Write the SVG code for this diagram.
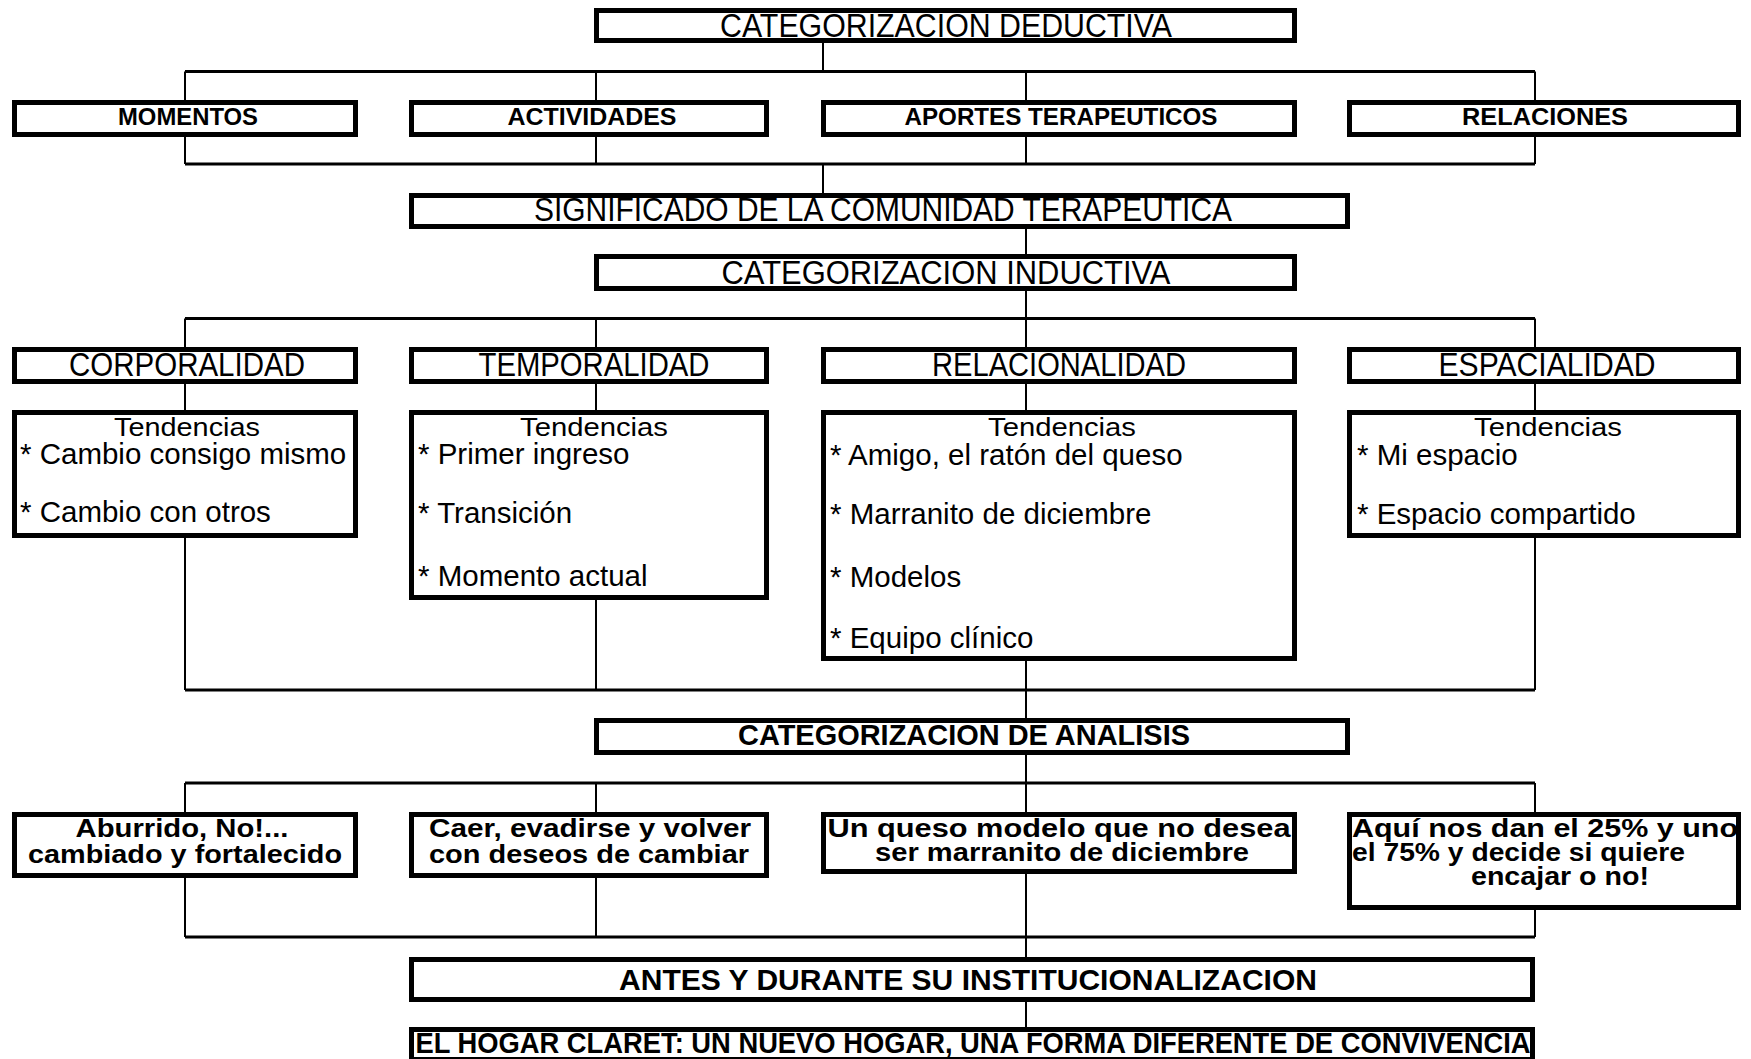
<svg xmlns="http://www.w3.org/2000/svg" width="1751" height="1059" viewBox="0 0 1751 1059">
  <style>
    .box { fill: #ffffff; stroke: #000000; stroke-width: 5; }
    .v { stroke: #000000; stroke-width: 2; fill: none; }
    .h { stroke: #000000; stroke-width: 3; fill: none; }
    text { font-family: "Liberation Sans", Arial, sans-serif; fill: #000000; }
    .cap { font-size: 34px; text-anchor: middle; }
    .capb { font-size: 24px; font-weight: bold; text-anchor: middle; }
    .titleb { font-size: 30px; font-weight: bold; text-anchor: middle; }
    .tend { font-size: 26px; text-anchor: middle; }
    .item { font-size: 29.5px; }
    .ana { font-size: 26px; font-weight: bold; }
    .mid { text-anchor: middle; }
  </style>

  <rect x="0" y="0" width="1751" height="1059" fill="#ffffff"/>

  <!-- connectors: vertical stems and horizontal bus bars -->
  <g id="connectors">
    <line class="v" x1="823" y1="43" x2="823" y2="71.5"/>
    <line class="h" x1="185" y1="71.5" x2="1535" y2="71.5"/>
    <line class="v" x1="185" y1="71.5" x2="185" y2="100"/>
    <line class="v" x1="596" y1="71.5" x2="596" y2="100"/>
    <line class="v" x1="1026" y1="71.5" x2="1026" y2="100"/>
    <line class="v" x1="1535" y1="71.5" x2="1535" y2="100"/>

    <line class="v" x1="185" y1="137" x2="185" y2="164"/>
    <line class="v" x1="596" y1="137" x2="596" y2="164"/>
    <line class="v" x1="1026" y1="137" x2="1026" y2="164"/>
    <line class="v" x1="1535" y1="137" x2="1535" y2="164"/>
    <line class="h" x1="185" y1="164" x2="1535" y2="164"/>
    <line class="v" x1="823" y1="164" x2="823" y2="193"/>

    <line class="v" x1="1026" y1="229" x2="1026" y2="254"/>
    <line class="v" x1="1026" y1="291" x2="1026" y2="318.5"/>
    <line class="h" x1="185" y1="318.5" x2="1535" y2="318.5"/>
    <line class="v" x1="185" y1="318.5" x2="185" y2="347"/>
    <line class="v" x1="596" y1="318.5" x2="596" y2="347"/>
    <line class="v" x1="1026" y1="318.5" x2="1026" y2="347"/>
    <line class="v" x1="1535" y1="318.5" x2="1535" y2="347"/>

    <line class="v" x1="185" y1="384" x2="185" y2="410"/>
    <line class="v" x1="596" y1="384" x2="596" y2="410"/>
    <line class="v" x1="1026" y1="384" x2="1026" y2="410"/>
    <line class="v" x1="1535" y1="384" x2="1535" y2="410"/>

    <line class="v" x1="185" y1="538" x2="185" y2="690"/>
    <line class="v" x1="596" y1="600" x2="596" y2="690"/>
    <line class="v" x1="1026" y1="661" x2="1026" y2="690"/>
    <line class="v" x1="1535" y1="538" x2="1535" y2="690"/>
    <line class="h" x1="185" y1="690" x2="1535" y2="690"/>
    <line class="v" x1="1026" y1="690" x2="1026" y2="718"/>

    <line class="v" x1="1026" y1="755" x2="1026" y2="783"/>
    <line class="h" x1="185" y1="783" x2="1535" y2="783"/>
    <line class="v" x1="185" y1="783" x2="185" y2="812"/>
    <line class="v" x1="596" y1="783" x2="596" y2="812"/>
    <line class="v" x1="1026" y1="783" x2="1026" y2="812"/>
    <line class="v" x1="1535" y1="783" x2="1535" y2="812"/>

    <line class="v" x1="185" y1="878" x2="185" y2="937"/>
    <line class="v" x1="596" y1="878" x2="596" y2="937"/>
    <line class="v" x1="1026" y1="874" x2="1026" y2="937"/>
    <line class="v" x1="1535" y1="910" x2="1535" y2="937"/>
    <line class="h" x1="185" y1="937" x2="1535" y2="937"/>
    <line class="v" x1="1026" y1="937" x2="1026" y2="957"/>
    <line class="v" x1="1026" y1="1002" x2="1026" y2="1027"/>
  </g>

  <!-- deductive categories -->
  <g id="deductiva">
    <rect class="box" x="596.5" y="10.5" width="698" height="30"/>
    <text class="cap" x="946" y="37" textLength="452" lengthAdjust="spacingAndGlyphs">CATEGORIZACION DEDUCTIVA</text>
  </g>
  <g id="momentos">
    <rect class="box" x="14.5" y="102.5" width="341" height="32"/>
    <text class="capb" x="188" y="125" textLength="140" lengthAdjust="spacingAndGlyphs">MOMENTOS</text>
  </g>
  <g id="actividades">
    <rect class="box" x="411.5" y="102.5" width="355" height="32"/>
    <text class="capb" x="592" y="125" textLength="169" lengthAdjust="spacingAndGlyphs">ACTIVIDADES</text>
  </g>
  <g id="aportes">
    <rect class="box" x="823.5" y="102.5" width="471" height="32"/>
    <text class="capb" x="1061" y="125" textLength="313" lengthAdjust="spacingAndGlyphs">APORTES TERAPEUTICOS</text>
  </g>
  <g id="relaciones">
    <rect class="box" x="1349.5" y="102.5" width="389" height="32"/>
    <text class="capb" x="1545" y="125" textLength="166" lengthAdjust="spacingAndGlyphs">RELACIONES</text>
  </g>
  <g id="significado">
    <rect class="box" x="411.5" y="195.5" width="936" height="31"/>
    <text class="cap" x="883" y="221" textLength="698" lengthAdjust="spacingAndGlyphs">SIGNIFICADO DE LA COMUNIDAD TERAPEUTICA</text>
  </g>

  <!-- inductive categories -->
  <g id="inductiva">
    <rect class="box" x="596.5" y="256.5" width="698" height="32"/>
    <text class="cap" x="946" y="284" textLength="449" lengthAdjust="spacingAndGlyphs">CATEGORIZACION INDUCTIVA</text>
  </g>
  <g id="corporalidad">
    <rect class="box" x="14.5" y="349.5" width="341" height="32"/>
    <text class="cap" x="187" y="376" textLength="236" lengthAdjust="spacingAndGlyphs">CORPORALIDAD</text>
  </g>
  <g id="temporalidad">
    <rect class="box" x="411.5" y="349.5" width="355" height="32"/>
    <text class="cap" x="594" y="376" textLength="231" lengthAdjust="spacingAndGlyphs">TEMPORALIDAD</text>
  </g>
  <g id="relacionalidad">
    <rect class="box" x="823.5" y="349.5" width="471" height="32"/>
    <text class="cap" x="1059" y="376" textLength="254" lengthAdjust="spacingAndGlyphs">RELACIONALIDAD</text>
  </g>
  <g id="espacialidad">
    <rect class="box" x="1349.5" y="349.5" width="389" height="32"/>
    <text class="cap" x="1547" y="376" textLength="217" lengthAdjust="spacingAndGlyphs">ESPACIALIDAD</text>
  </g>

  <!-- tendencies per category -->
  <g id="tend-corporalidad">
    <rect class="box" x="14.5" y="412.5" width="341" height="123"/>
    <text class="tend" x="187" y="436" textLength="146" lengthAdjust="spacingAndGlyphs">Tendencias</text>
    <text class="item" x="20" y="464">* Cambio consigo mismo</text>
    <text class="item" x="20" y="522">* Cambio con otros</text>
  </g>
  <g id="tend-temporalidad">
    <rect class="box" x="411.5" y="412.5" width="355" height="185"/>
    <text class="tend" x="594" y="436" textLength="148" lengthAdjust="spacingAndGlyphs">Tendencias</text>
    <text class="item" x="418" y="464">* Primer ingreso</text>
    <text class="item" x="418" y="523">* Transición</text>
    <text class="item" x="418" y="586">* Momento actual</text>
  </g>
  <g id="tend-relacionalidad">
    <rect class="box" x="823.5" y="412.5" width="471" height="246"/>
    <text class="tend" x="1062" y="436" textLength="148" lengthAdjust="spacingAndGlyphs">Tendencias</text>
    <text class="item" x="830" y="465">* Amigo, el ratón del queso</text>
    <text class="item" x="830" y="524">* Marranito de diciembre</text>
    <text class="item" x="830" y="587">* Modelos</text>
    <text class="item" x="830" y="648">* Equipo clínico</text>
  </g>
  <g id="tend-espacialidad">
    <rect class="box" x="1349.5" y="412.5" width="389" height="123"/>
    <text class="tend" x="1548" y="436" textLength="148" lengthAdjust="spacingAndGlyphs">Tendencias</text>
    <text class="item" x="1357" y="465">* Mi espacio</text>
    <text class="item" x="1357" y="524">* Espacio compartido</text>
  </g>

  <!-- analysis categories -->
  <g id="analisis">
    <rect class="box" x="596.5" y="720.5" width="751" height="32"/>
    <text class="titleb" x="964" y="745" textLength="452" lengthAdjust="spacingAndGlyphs">CATEGORIZACION DE ANALISIS</text>
  </g>
  <g id="analisis-1">
    <rect class="box" x="14.5" y="814.5" width="341" height="61"/>
    <text class="ana mid" x="182" y="837" textLength="213" lengthAdjust="spacingAndGlyphs">Aburrido, No!...</text>
    <text class="ana mid" x="185" y="863" textLength="314" lengthAdjust="spacingAndGlyphs">cambiado y fortalecido</text>
  </g>
  <g id="analisis-2">
    <rect class="box" x="411.5" y="814.5" width="355" height="61"/>
    <text class="ana mid" x="590" y="837" textLength="322" lengthAdjust="spacingAndGlyphs">Caer, evadirse y volver</text>
    <text class="ana mid" x="589" y="863" textLength="320" lengthAdjust="spacingAndGlyphs">con deseos de cambiar</text>
  </g>
  <g id="analisis-3">
    <rect class="box" x="823.5" y="814.5" width="471" height="57"/>
    <text class="ana mid" x="1059" y="837" textLength="463" lengthAdjust="spacingAndGlyphs">Un queso modelo que no desea</text>
    <text class="ana mid" x="1062" y="861" textLength="374" lengthAdjust="spacingAndGlyphs">ser marranito de diciembre</text>
  </g>
  <g id="analisis-4">
    <rect class="box" x="1349.5" y="814.5" width="389" height="93"/>
    <text class="ana" x="1352" y="837" textLength="386" lengthAdjust="spacingAndGlyphs">Aquí nos dan el 25% y uno</text>
    <text class="ana" x="1352" y="861" textLength="333" lengthAdjust="spacingAndGlyphs">el 75% y decide si quiere</text>
    <text class="ana" x="1471" y="885" textLength="178" lengthAdjust="spacingAndGlyphs">encajar o no!</text>
  </g>

  <!-- synthesis -->
  <g id="antes-durante">
    <rect class="box" x="411.5" y="959.5" width="1121" height="40"/>
    <text class="titleb" x="968" y="990" textLength="698" lengthAdjust="spacingAndGlyphs">ANTES Y DURANTE SU INSTITUCIONALIZACION</text>
  </g>
  <g id="hogar-claret">
    <rect class="box" x="411.5" y="1029.5" width="1121" height="30"/>
    <text class="titleb" x="973" y="1053" textLength="1115" lengthAdjust="spacingAndGlyphs">EL HOGAR CLARET: UN NUEVO HOGAR, UNA FORMA DIFERENTE DE CONVIVENCIA</text>
  </g>
</svg>
